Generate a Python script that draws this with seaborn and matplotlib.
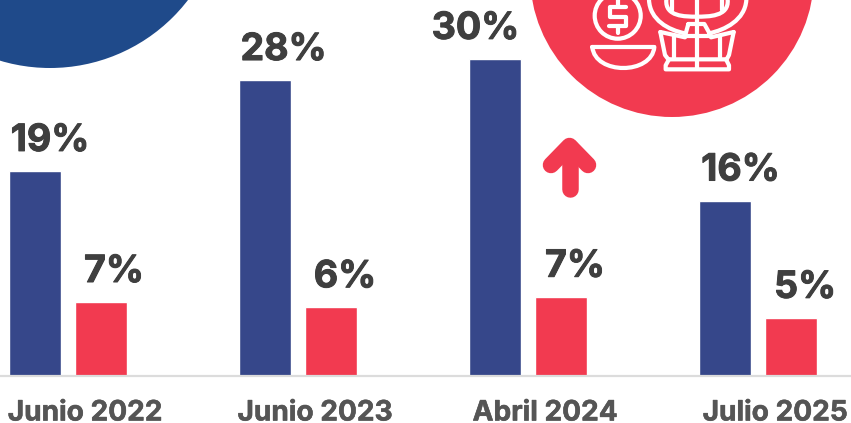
import matplotlib
matplotlib.use("Agg")
import matplotlib.pyplot as plt
import matplotlib.patheffects as pe
from matplotlib.patches import Circle, PathPatch
from matplotlib.path import Path
import pandas as pd
import seaborn as sns

periods = ["Junio 2022", "Junio 2023", "Abril 2024", "Julio 2025"]
blue_values = [19.4, 28.0, 30.0, 16.6]
red_values = [7.0, 6.5, 7.5, 5.5]
blue_labels = ["19%", "28%", "30%", "16%"]
red_labels = ["7%", "6%", "7%", "5%"]

BLUE = "#36478A"
RED = "#F23A50"
W, H = 851, 423
FONT = ["Inter", "DejaVu Sans"]
PX = 72 / 100  # points per pixel

sns.set_theme(style="white")
plt.rcParams["font.family"] = FONT

df = pd.DataFrame({
    "period": periods * 2,
    "value": blue_values + red_values,
    "series": ["a"] * 4 + ["b"] * 4,
})

fig = plt.figure(figsize=(W / 100, H / 100), dpi=100, facecolor="white")

# decoration layer in pixel coordinates
bg = fig.add_axes([0, 0, 1, 1], zorder=0)
bg.set_xlim(0, W)
bg.set_ylim(H, 0)
bg.axis("off")
bg.add_patch(Circle((50, -106), 174, fc="#1F4A8A", ec="none"))
bg.add_patch(Circle((672, -25), 142, fc=RED, ec="none"))

ICON_LW = 4.2 * PX


def z(pts):
    return [(585 + x / 3, y / 3) for x, y in pts]


def line(pts):
    p = z(pts)
    bg.plot([a for a, _ in p], [b for _, b in p], color="white", lw=ICON_LW,
            solid_capstyle="round", solid_joinstyle="round")


def curve(pts):
    p = z(pts)
    codes = [Path.MOVETO] + [Path.CURVE4] * (len(p) - 1)
    bg.add_patch(PathPatch(Path(p, codes), fc="none", ec="white", lw=ICON_LW, capstyle="round"))


# coin with dollar sign
bg.add_patch(Circle((617.7, 15.7), 23, fc="none", ec="white", lw=ICON_LW))
line([(122, 22), (76, 22), (76, 50), (122, 50), (122, 78), (72, 78)])
line([(98, 0), (98, 18)])
line([(98, 80), (98, 98)])
# bowl
curve([(22, 141), (30, 225), (200, 225), (208, 141)])
line([(22, 141), (208, 141)])
# person: arms and hood
curve([(192, 0), (195, 60), (250, 90), (300, 100)])
curve([(484, 0), (480, 60), (420, 90), (372, 100)])
curve([(244, 0), (240, 50), (300, 50), (335, 50)])
curve([(428, 0), (432, 50), (370, 50), (335, 50)])
line([(262, 0), (262, 30)])
line([(410, 0), (410, 30)])
# collar
line([(310, 72), (358, 72), (378, 108), (300, 108), (310, 72)])
# body
line([(335, 0), (335, 205)])
line([(226, 96), (240, 165), (250, 178), (425, 178), (432, 165), (446, 96)])
line([(226, 96), (300, 112)])
line([(446, 96), (378, 112)])
line([(268, 108), (268, 176)])
line([(405, 108), (405, 176)])
line([(252, 178), (242, 196), (242, 208), (432, 208), (432, 196), (423, 178)])
# arrow
for pts in ([(569.5, 189), (569.5, 147)], [(551, 165), (569.5, 146), (588, 165)]):
    bg.plot([a for a, _ in pts], [b for _, b in pts], color=RED, lw=16.5 * PX,
            solid_capstyle="round", solid_joinstyle="round")

# chart
ax = fig.add_axes([0, (H - 376) / H, 1, 376 / H], zorder=1)
ax.patch.set_alpha(0)
sns.barplot(data=df, x="period", y="value", hue="series", order=periods,
            palette=[BLUE, RED], width=0.574, gap=0.215, dodge=True,
            legend=False, ax=ax, saturation=1)
ax.set_xlim(-68 / 230, (W - 68) / 230)
ax.set_ylim(0, 376 / 10.57)
ax.set_xlabel("")
ax.set_ylabel("")
ax.set_yticks([])
for s in ["top", "left", "right"]:
    ax.spines[s].set_visible(False)
ax.spines["bottom"].set_color("#DCDCDC")
ax.spines["bottom"].set_linewidth(1.6)
ax.tick_params(axis="x", length=0, pad=0)
ax.set_xticks(range(4))
ax.set_xticklabels([])

for i, p in enumerate(periods):
    t = ax.annotate(p, (i, 0), xytext=(17, -37), textcoords="offset pixels",
                    ha="center", va="center", fontsize=20.2, fontweight="bold", color="#555555")
    t.set_path_effects([pe.withStroke(linewidth=0.4, foreground="#555555")])

dx = 0.287 / 2
blue_dx = [15, 18.5, -19.5, 15.5]
red_dx = [13, 14, 14, 14]
for i in range(4):
    for txt, x, y, off in ((blue_labels[i], i - dx, blue_values[i], blue_dx[i]),
                           (red_labels[i], i + dx, red_values[i], red_dx[i])):
        t = ax.annotate(txt, (x, y), xytext=(off, 30), textcoords="offset pixels",
                        ha="center", va="center", fontsize=27, fontweight="bold", color="#3F3F3F")
        t.set_path_effects([pe.withStroke(linewidth=0.7, foreground="#3F3F3F")])

fig.savefig("out.png", dpi=100)
